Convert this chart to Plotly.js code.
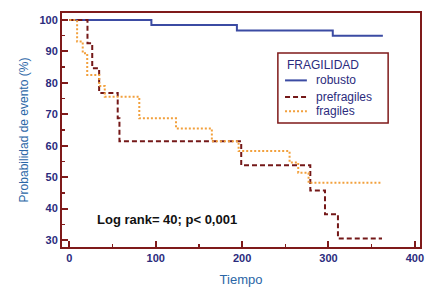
<!DOCTYPE html>
<html>
<head>
<meta charset="utf-8">
<script src="https://cdn.plot.ly/plotly-3.0.1.min.js"></script>
<style>html,body{margin:0;padding:0;background:#fff;}#chart{width:443px;height:304px;}</style>
</head>
<body>
<div id="chart"></div>
<script>
const robustoT = [0, 95, 194, 305, 363];
const robustoS = [100, 98.4, 96.6, 95, 95];
const prefragilesT = [0, 21, 26.5, 34.5, 56, 58, 199, 279, 296, 311, 362];
const prefragilesS = [100, 92.6, 84.6, 76.8, 68.7, 61.4, 53.8, 45.8, 38.2, 30.5, 30.5];
const fragilesT = [0, 9, 15.5, 20.7, 34.6, 41, 81, 123.5, 165, 196, 255, 265, 277, 362];
const fragilesS = [100, 93.1, 89.4, 82.5, 79, 75.6, 68.7, 65.5, 61.4, 58.3, 54.7, 51.4, 48.2, 48.2];
const seriesNames = ['robusto', 'prefragiles', 'fragiles'];
const xTicks = [0, 100, 200, 300, 400];
const yTicks = [30, 40, 50, 60, 70, 80, 90, 100];
const legendTitle = 'FRAGILIDAD';
const annotationText = 'Log rank= 40; p< 0,001';

const frame = '#7f1a1a';
const navy = '#2b2b7d';
const lineStyles = [
  {shape: 'hv', color: '#3b4ba3', width: 2},
  {shape: 'hv', color: '#741818', width: 2, dash: '5px,3px'},
  {shape: 'hv', color: '#f2a03c', width: 2, dash: '2px,2px'}
];
const xs = [robustoT, prefragilesT, fragilesT];
const ys = [robustoS, prefragilesS, fragilesS];

const traces = seriesNames.map((n, i) => ({
  x: xs[i], y: ys[i], name: n, mode: 'lines', line: lineStyles[i], showlegend: false
}));

// custom legend (box, title, samples, labels) in paper coordinates
const legBox = {x0: 0.603, x1: 0.911, y0: 0.530, y1: 0.829};
const legRows = [0.712, 0.641, 0.580];
const shapes = [{
  type: 'rect', xref: 'paper', yref: 'paper', x0: legBox.x0, x1: legBox.x1, y0: legBox.y0, y1: legBox.y1,
  line: {color: frame, width: 1.5}, fillcolor: '#fff', layer: 'above'
}];
const annotations = [{
  xref: 'paper', yref: 'paper', x: 0.624, y: 0.778, xanchor: 'left', yanchor: 'middle',
  text: legendTitle, showarrow: false, font: {size: 12, color: navy}
}];
seriesNames.forEach((n, i) => {
  shapes.push({
    type: 'line', xref: 'paper', yref: 'paper', x0: 0.623, x1: 0.684, y0: legRows[i], y1: legRows[i],
    line: {color: lineStyles[i].color, width: 2, dash: lineStyles[i].dash || 'solid'}, layer: 'above'
  });
  annotations.push({
    xref: 'paper', yref: 'paper', x: 0.705, y: legRows[i], xanchor: 'left', yanchor: 'middle',
    text: n, showarrow: false, font: {size: 12, color: navy}
  });
});
annotations.push({
  x: 29.7, y: 36.6, xref: 'x', yref: 'y', xanchor: 'left', yanchor: 'middle',
  text: '<b>' + annotationText + '</b>', showarrow: false,
  font: {size: 13, color: '#111'}
});

const layout = {
  width: 443, height: 304,
  margin: {l: 62, r: 23, t: 13, b: 57},
  paper_bgcolor: '#fff', plot_bgcolor: '#fff',
  font: {family: 'Liberation Sans, Arial, sans-serif', color: navy},
  showlegend: false,
  xaxis: {
    range: [-8.5, 406], tickvals: xTicks, ticks: 'inside', ticklen: 6, tickwidth: 2, tickcolor: frame,
    showline: true, linecolor: frame, linewidth: 2, mirror: true, showgrid: false, zeroline: false,
    tickfont: {size: 11, color: navy, weight: 'bold'},
    minor: {dtick: 50, tick0: 0, ticks: 'inside', ticklen: 3, tickwidth: 1.5, tickcolor: frame, showgrid: false},
    title: {text: 'Tiempo', font: {size: 13, color: '#2a66a6'}, standoff: 12}
  },
  yaxis: {
    range: [27.8, 102.2], tickvals: yTicks, ticks: 'inside', ticklen: 6, tickwidth: 2, tickcolor: frame,
    showline: true, linecolor: frame, linewidth: 2, mirror: true, showgrid: false, zeroline: false,
    tickfont: {size: 11, color: navy, weight: 'bold'},
    minor: {dtick: 5, tick0: 0, ticks: 'inside', ticklen: 3, tickwidth: 1.5, tickcolor: frame, showgrid: false},
    title: {text: 'Probabilidad de evento (%)', font: {size: 12, color: '#2a66a6'}, standoff: 8}
  },
  shapes: shapes,
  annotations: annotations
};

Plotly.newPlot('chart', traces, layout, {displayModeBar: false, staticPlot: true});
</script>
</body>
</html>
